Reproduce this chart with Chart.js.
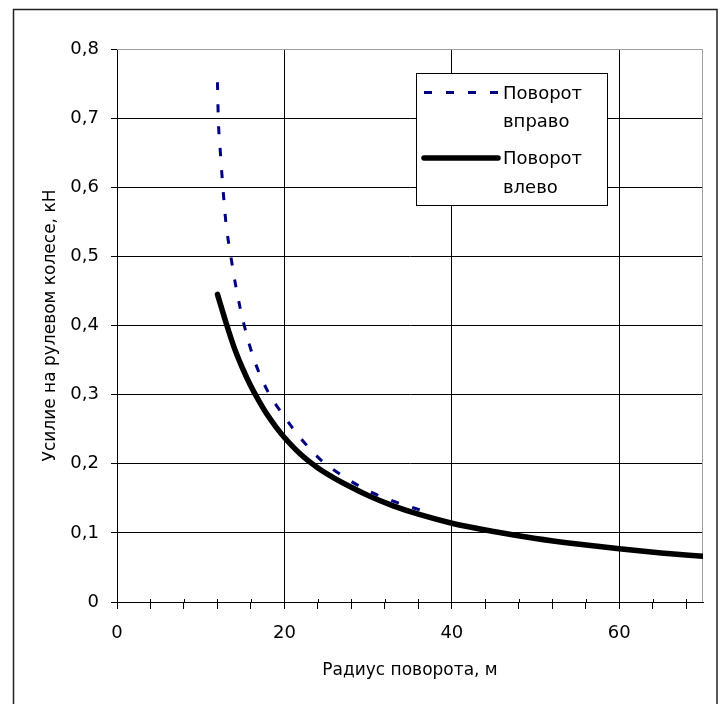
<!DOCTYPE html>
<html><head><meta charset="utf-8">
<script src="https://cdn.jsdelivr.net/npm/chart.js@4"></script>
<style>html,body{margin:0;padding:0;background:#fff}#wrap{width:725px;height:704px;position:relative}</style>
</head><body><div id="wrap"><canvas id="c" width="725" height="704"></canvas></div>
<script>
// ---- data ----
const radiusRight = [12, 12.1, 12.35, 12.65, 13.0, 13.6, 14.3, 15.2, 16.4, 18, 20, 22, 24.4, 27, 30, 33, 37];
const forceRight  = [0.752, 0.70, 0.65, 0.60, 0.55, 0.50, 0.45, 0.40, 0.35, 0.305, 0.268, 0.236, 0.205, 0.182, 0.161, 0.146, 0.13];
const radiusLeft  = [12, 12.5, 13, 14, 15, 16, 17, 18, 19, 20, 22, 24, 26, 28, 30, 33, 36, 40, 45, 50, 55, 60, 65, 70];
const forceLeft   = [0.445, 0.425, 0.405, 0.368, 0.338, 0.312, 0.29, 0.27, 0.253, 0.238, 0.213, 0.194, 0.179, 0.166, 0.154, 0.139, 0.127, 0.114, 0.102, 0.092, 0.084, 0.077, 0.071, 0.066];
const seriesRightName = ['Поворот', 'вправо'];
const seriesLeftName  = ['Поворот', 'влево'];
const xTickValues = [0, 20, 40, 60];
const xTickLabels = ['0', '20', '40', '60'];
const yTickLabels = ['0', '0,1', '0,2', '0,3', '0,4', '0,5', '0,6', '0,7', '0,8'];
const xTitle = 'Радиус поворота, м';
const yTitle = 'Усилие на рулевом колесе, кН';

const FONT = 'DejaVu Sans';
const toPts = (xs, ys) => xs.map((x, i) => ({x: x, y: ys[i]}));

const decorPlugin = {
  id: 'decor',
  beforeDatasetsDraw(chart) {
    const {ctx, chartArea: a, scales} = chart;
    ctx.save();
    // gray plot-area border (top and right)
    ctx.strokeStyle = '#a0a0a0';
    ctx.lineWidth = 1;
    ctx.beginPath();
    ctx.moveTo(a.left, Math.round(a.top) + 0.5);
    ctx.lineTo(Math.round(a.right) - 0.5, Math.round(a.top) + 0.5);
    ctx.lineTo(Math.round(a.right) - 0.5, a.bottom);
    ctx.stroke();
    // inner part of minor x tick marks
    ctx.strokeStyle = '#000';
    ctx.beginPath();
    scales.x.ticks.forEach(t => {
      if (t.value % 20 !== 0) {
        const px = Math.round(scales.x.getPixelForValue(t.value)) + 0.5;
        ctx.moveTo(px, a.bottom - 3);
        ctx.lineTo(px, a.bottom);
      }
    });
    ctx.stroke();
    ctx.restore();
  },
  afterDraw(chart) {
    const {ctx} = chart;
    const ds = chart.data.datasets;
    ctx.save();
    // legend box
    ctx.fillStyle = '#fff';
    ctx.fillRect(416.5, 73.5, 191, 132);
    ctx.strokeStyle = '#000';
    ctx.lineWidth = 1;
    ctx.strokeRect(416.5, 73.5, 191, 132);
    const rows = [{d: ds[0], y: 92.5, ty: [99, 127]}, {d: ds[1], y: 158, ty: [164, 193]}];
    rows.forEach(r => {
      ctx.save();
      ctx.strokeStyle = r.d.borderColor;
      ctx.lineWidth = r.d.borderWidth;
      ctx.setLineDash(r.d.borderDash || []);
      ctx.lineCap = r.d.borderCapStyle || 'butt';
      ctx.beginPath();
      ctx.moveTo(424, r.y);
      ctx.lineTo(498, r.y);
      ctx.stroke();
      ctx.restore();
      ctx.fillStyle = '#000';
      ctx.font = '18px "' + FONT + '"';
      ctx.textAlign = 'left';
      ctx.textBaseline = 'alphabetic';
      r.d.label.forEach((s, i) => ctx.fillText(s, 503, r.ty[i]));
    });
    // outer chart frame
    ctx.strokeStyle = '#222';
    ctx.lineWidth = 1.5;
    ctx.strokeRect(13.5, 9.5, 703.5, 720);
    ctx.restore();
  }
};

new Chart(document.getElementById('c'), {
  type: 'line',
  data: {
    datasets: [
      {
        label: seriesRightName,
        data: toPts(radiusRight, forceRight),
        borderColor: '#000080',
        borderWidth: 3,
        borderDash: [8, 14],
        pointRadius: 0,
        cubicInterpolationMode: 'monotone',
        fill: false
      },
      {
        label: seriesLeftName,
        data: toPts(radiusLeft, forceLeft),
        borderColor: '#000000',
        borderWidth: 5.5,
        borderCapStyle: 'round',
        pointRadius: 0,
        cubicInterpolationMode: 'monotone',
        fill: false
      }
    ]
  },
  options: {
    responsive: false,
    devicePixelRatio: 1,
    animation: false,
    layout: {padding: {left: 0, top: 49, right: 22, bottom: 0}},
    plugins: {legend: {display: false}, tooltip: {enabled: false}},
    scales: {
      x: {
        type: 'linear',
        min: 0, max: 70,
        afterFit(s) { s.height = 102; },
        ticks: {
          stepSize: 4,
          includeBounds: false,
          autoSkip: false,
          maxRotation: 0,
          padding: 14,
          color: '#000',
          font: {family: FONT, size: 18},
          callback(v) { const i = xTickValues.indexOf(v); return i >= 0 ? xTickLabels[i] : ''; }
        },
        grid: {
          color: c => (c.tick && c.tick.value % 20 === 0) ? '#000' : 'rgba(0,0,0,0)',
          tickColor: '#000',
          tickLength: 7,
          lineWidth: 1
        },
        border: {color: '#000', width: 1},
        title: {display: true, text: xTitle, color: '#000', font: {family: FONT, size: 17}, padding: {top: 0, bottom: 23}}
      },
      y: {
        type: 'linear',
        min: 0, max: 0.8,
        afterFit(s) { s.width = 117; },
        ticks: {
          stepSize: 0.1,
          padding: 12,
          color: '#000',
          font: {family: FONT, size: 18},
          callback(v) { return yTickLabels[Math.round(v * 10)]; }
        },
        grid: {
          color: c => (c.tick && Math.round(c.tick.value * 10) === 8) ? '#a0a0a0' : '#000',
          tickColor: '#000',
          tickLength: 6,
          lineWidth: 1
        },
        border: {color: '#000', width: 1},
        title: {display: true, text: yTitle, color: '#000', font: {family: FONT, size: 17}, padding: {top: 40, bottom: 0}}
      }
    }
  },
  plugins: [decorPlugin]
});
</script>
</body></html>
